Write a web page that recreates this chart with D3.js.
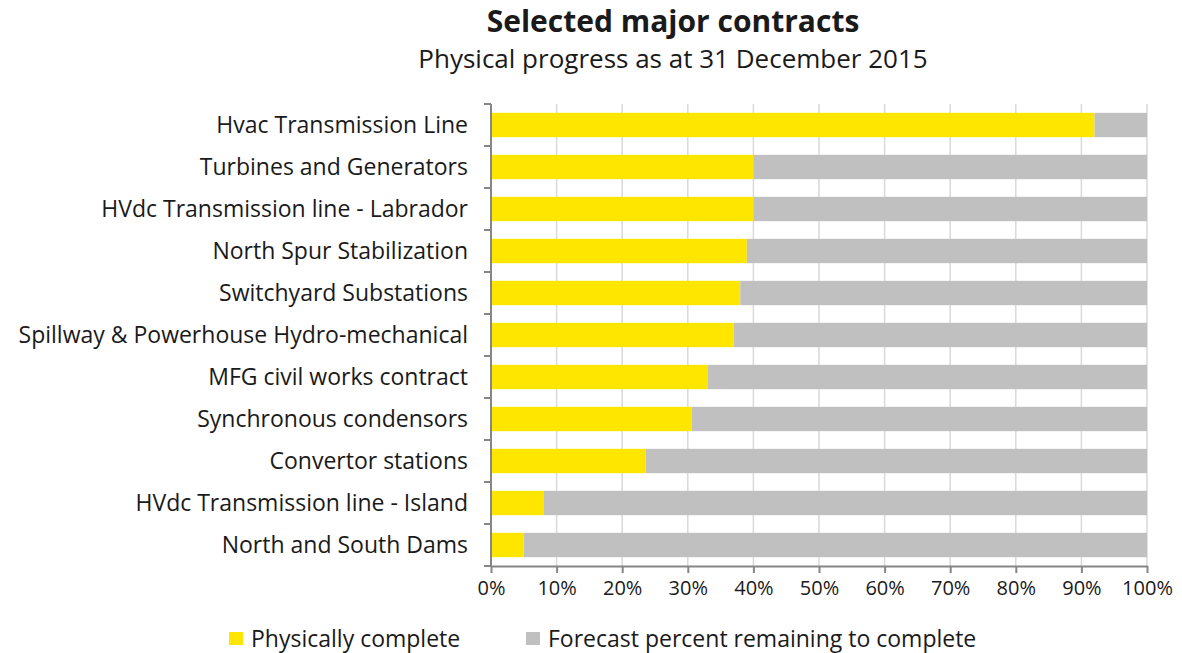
<!DOCTYPE html>
<html>
<head>
<meta charset="utf-8">
<script src="https://cdn.jsdelivr.net/npm/d3@7"></script>
<style>
  body { margin: 0; background: #fff; }
  svg text { font-family: "Open Sans", "Noto Sans", sans-serif; fill: #1a1a1a; }
</style>
</head>
<body>
<svg id="chart" width="1182" height="653"></svg>
<script>
// Contracts, top to bottom
var categories = [
  "Hvac Transmission Line",
  "Turbines and Generators",
  "HVdc Transmission line - Labrador",
  "North Spur Stabilization",
  "Switchyard Substations",
  "Spillway & Powerhouse Hydro-mechanical",
  "MFG civil works contract",
  "Synchronous condensors",
  "Convertor stations",
  "HVdc Transmission line - Island",
  "North and South Dams"
];
// Percent physically complete
var complete = [92, 40, 40, 39, 38, 37, 33, 30.6, 23.6, 8, 5];
var remaining = complete.map(d => 100 - d);
var seriesNames = ["Physically complete", "Forecast percent remaining to complete"];
var seriesColors = ["#ffe600", "#c0c0c0"];
var xTicks = [0, 10, 20, 30, 40, 50, 60, 70, 80, 90, 100];

var svg = d3.select("#chart");
var margin = { left: 491, right: 35, top: 104, bottom: 87 };
var width = 1182 - margin.left - margin.right;
var height = 653 - margin.top - margin.bottom;

var x = d3.scaleLinear().domain([0, 100]).range([0, width]);
var y = d3.scaleBand().domain(categories).range([0, height]).paddingInner(0.42).paddingOuter(0.21);

var g = svg.append("g").attr("transform", "translate(" + margin.left + "," + margin.top + ")");

// gridlines
g.selectAll("line.grid")
  .data(xTicks.slice(1))
  .join("line")
  .attr("class", "grid")
  .attr("x1", d => x(d)).attr("x2", d => x(d))
  .attr("y1", 0).attr("y2", height)
  .attr("stroke", "#d9d9d9")
  .attr("stroke-width", 1.5);

// stacked bars
var stackData = categories.map((c, i) => ({ cat: c, a: complete[i], b: remaining[i] }));
var stacked = d3.stack().keys(["a", "b"])(stackData);

g.selectAll("g.series")
  .data(stacked)
  .join("g")
  .attr("class", "series")
  .attr("fill", (d, i) => seriesColors[i])
  .selectAll("rect")
  .data(d => d)
  .join("rect")
  .attr("x", d => x(d[0]))
  .attr("width", d => x(d[1]) - x(d[0]))
  .attr("y", d => y(d.data.cat))
  .attr("height", y.bandwidth());

// y axis: line with ticks at category boundaries
var yAxisG = g.append("g");
yAxisG.append("line")
  .attr("x1", 0).attr("x2", 0).attr("y1", 0).attr("y2", height)
  .attr("stroke", "#868686").attr("stroke-width", 2);
var bounds = d3.range(categories.length + 1).map(i => i * height / categories.length);
yAxisG.selectAll("line.tick")
  .data(bounds)
  .join("line")
  .attr("class", "tick")
  .attr("x1", -7).attr("x2", 0)
  .attr("y1", d => d).attr("y2", d => d)
  .attr("stroke", "#868686").attr("stroke-width", 2);
yAxisG.selectAll("text")
  .data(categories)
  .join("text")
  .attr("x", -23)
  .attr("y", d => y(d) + y.bandwidth() / 2)
  .attr("dy", "0.35em")
  .attr("text-anchor", "end")
  .attr("font-size", 23)
  .text(d => d);

// x axis
var xAxis = d3.axisBottom(x).tickValues(xTicks).tickFormat(d => d + "%").tickSize(7).tickSizeOuter(0);
var xAxisG = g.append("g").attr("transform", "translate(0," + height + ")").call(xAxis);
xAxisG.select(".domain").attr("stroke", "#868686").attr("stroke-width", 2);
xAxisG.selectAll(".tick line").attr("stroke", "#868686").attr("stroke-width", 2);
xAxisG.selectAll(".tick text")
  .attr("font-size", 20)
  .attr("font-family", "'Open Sans', 'Noto Sans', sans-serif")
  .attr("fill", "#1a1a1a")
  .attr("y", 15);

// titles
svg.append("text")
  .attr("x", 673).attr("y", 32)
  .attr("text-anchor", "middle")
  .attr("font-size", 30).attr("font-weight", "bold")
  .text("Selected major contracts");
svg.append("text")
  .attr("x", 673).attr("y", 68)
  .attr("text-anchor", "middle")
  .attr("font-size", 26)
  .text("Physical progress as at 31 December 2015");

// legend
var legendX = [229, 526];
var legend = svg.selectAll("g.legend")
  .data(seriesNames)
  .join("g")
  .attr("class", "legend")
  .attr("transform", (d, i) => "translate(" + legendX[i] + ",632)");
legend.append("rect")
  .attr("width", 14).attr("height", 13)
  .attr("fill", (d, i) => seriesColors[i]);
legend.append("text")
  .attr("x", 22).attr("y", 7)
  .attr("dy", "0.35em")
  .attr("font-size", 23)
  .text(d => d);
</script>
</body>
</html>
